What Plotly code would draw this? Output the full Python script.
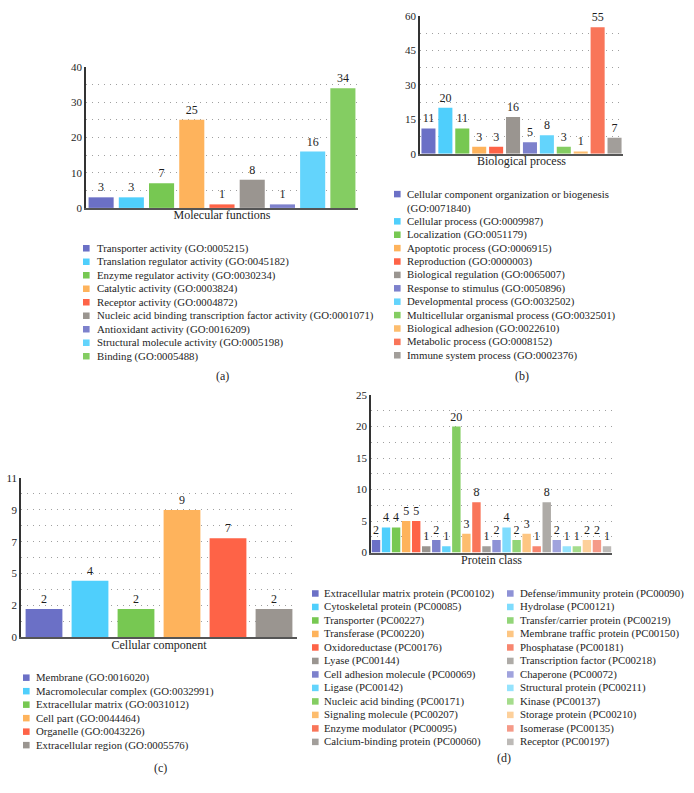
import numpy as np
import plotly.graph_objects as go

FONT = "Liberation Serif"
W, H = 694, 793

# ---------------- data ----------------
mf_labels = [
    "Transporter activity (GO:0005215)",
    "Translation regulator activity (GO:0045182)",
    "Enzyme regulator activity (GO:0030234)",
    "Catalytic activity (GO:0003824)",
    "Receptor activity (GO:0004872)",
    "Nucleic acid binding transcription factor activity (GO:0001071)",
    "Antioxidant activity (GO:0016209)",
    "Structural molecule activity (GO:0005198)",
    "Binding (GO:0005488)",
]
mf_values = [3, 3, 7, 25, 1, 8, 1, 16, 34]

bp_labels = [
    "Cellular component organization or biogenesis (GO:0071840)",
    "Cellular process (GO:0009987)",
    "Localization (GO:0051179)",
    "Apoptotic process (GO:0006915)",
    "Reproduction (GO:0000003)",
    "Biological regulation (GO:0065007)",
    "Response to stimulus (GO:0050896)",
    "Developmental process (GO:0032502)",
    "Multicellular organismal process (GO:0032501)",
    "Biological adhesion (GO:0022610)",
    "Metabolic process (GO:0008152)",
    "Immune system process (GO:0002376)",
]
bp_values = [11, 20, 11, 3, 3, 16, 5, 8, 3, 1, 55, 7]

cc_labels = [
    "Membrane (GO:0016020)",
    "Macromolecular complex (GO:0032991)",
    "Extracellular matrix (GO:0031012)",
    "Cell part (GO:0044464)",
    "Organelle (GO:0043226)",
    "Extracellular region (GO:0005576)",
]
cc_values = [2, 4, 2, 9, 7, 2]
cc_ticktext = ["0", "2", "5", "7", "9", "11"]

pc_labels = [
    "Extracellular matrix protein (PC00102)",
    "Cytoskeletal protein (PC00085)",
    "Transporter (PC00227)",
    "Transferase (PC00220)",
    "Oxidoreductase (PC00176)",
    "Lyase (PC00144)",
    "Cell adhesion molecule (PC00069)",
    "Ligase (PC00142)",
    "Nucleic acid binding (PC00171)",
    "Signaling molecule (PC00207)",
    "Enzyme modulator (PC00095)",
    "Calcium-binding protein (PC00060)",
    "Defense/immunity protein (PC00090)",
    "Hydrolase (PC00121)",
    "Transfer/carrier protein (PC00219)",
    "Membrane traffic protein (PC00150)",
    "Phosphatase (PC00181)",
    "Transcription factor (PC00218)",
    "Chaperone (PC00072)",
    "Structural protein (PC00211)",
    "Kinase (PC00137)",
    "Storage protein (PC00210)",
    "Isomerase (PC00135)",
    "Receptor (PC00197)",
]
pc_values = [2, 4, 4, 5, 5, 1, 2, 1, 20, 3, 8, 1, 2, 4, 2, 3, 1, 8, 2, 1, 1, 2, 2, 1]

# ---------------- style ----------------
PAL = [
    ["#6b70c6", "#4fcffc", "#77c852", "#feb35c", "#fe6347", "#9a9590"],
    ["#7d81cc", "#63d4fc", "#84cd62", "#fdbd6e", "#f97559", "#a29e9a"],
    ["#8e92d6", "#7fdcfd", "#92d578", "#fdc683", "#f7866f", "#aeaba7"],
    ["#a0a3dd", "#95e3fd", "#a5dc8c", "#fdd09b", "#f59a88", "#bdbab7"],
]


def colors_for(n):
    return [PAL[i // 6][i % 6] for i in range(n)]


def px(x):
    return x / W


def py(y):
    return 1 - y / H


TXT = "#1e1e1e"
GRID = "#a0a0a0"
DASH = "1px,5px"
LEGFONT = 10.8

panels = [
    dict(labels=mf_labels, values=mf_values, xd=(86, 358), yd=(62, 205),
         ytop=40, dtick=10, title="Molecular functions", bw=0.83,
         tag="(a)", tagpos=(222, 376),
         legend=[dict(sq=83, tx=96, y0=246, lh=13.7, items=range(0, 9), wrap=None)]),
    dict(labels=bp_labels, values=bp_values, xd=(420, 623), yd=(10, 150),
         ytop=60, dtick=15, title="Biological process", bw=0.83,
         tag="(b)", tagpos=(522, 376),
         legend=[dict(sq=394, tx=406, y0=191, lh=13.6, items=range(0, 12), wrap=50)]),
    dict(labels=cc_labels, values=cc_values, xd=(21, 297), yd=(479.3, 641),
         ytop=11.25, dtick=None, title="Cellular component", bw=0.8,
         tag="(c)", tagpos=(160, 774),
         legend=[dict(sq=23, tx=35, y0=682, lh=13.7, items=range(0, 6), wrap=None)]),
    dict(labels=pc_labels, values=pc_values, xd=(371, 612), yd=(395, 555),
         ytop=25, dtick=5, title="Protein class", bw=0.84,
         tag="(d)", tagpos=(504, 764),
         legend=[dict(sq=312, tx=323, y0=596.5, lh=13.7, items=range(0, 12), wrap=None),
                 dict(sq=507, tx=519, y0=596.5, lh=13.7, items=range(12, 24), wrap=None)]),
]

fig = go.Figure()
annotations = []
shapes = []
BR_LH = 1.3 * LEGFONT
SQ = 6.6

for i, p in enumerate(panels):
    sfx = "" if i == 0 else str(i + 1)
    xa, ya = "x" + sfx, "y" + sfx
    cols = colors_for(len(p["labels"]))
    for lab, val, col in zip(p["labels"], p["values"], cols):
        fig.add_trace(go.Bar(
            x=[lab], y=[val], name=lab, marker=dict(color=col, line=dict(width=0)),
            width=p["bw"], text=[val], textposition="outside",
            textfont=dict(family=FONT, size=12, color=TXT),
            cliponaxis=False, showlegend=False, xaxis=xa, yaxis=ya,
            hovertemplate="%{x}: %{y}<extra></extra>"))

    n = len(p["labels"])
    xaxis = dict(domain=[px(p["xd"][0]), px(p["xd"][1])], anchor=ya,
                 type="category", range=[-0.5, n - 0.5],
                 showline=True, linecolor="#555555", linewidth=2,
                 showgrid=False, showticklabels=False, ticks="", zeroline=False,
                 title=dict(text=p["title"], standoff=2,
                            font=dict(family=FONT, size=12, color=TXT)),
                 fixedrange=True)
    yaxis = dict(domain=[py(p["yd"][1]), py(p["yd"][0])], anchor=xa,
                 range=[0, p["ytop"]], showline=True, linecolor="#333333",
                 linewidth=1.5, ticks="", zeroline=False,
                 showgrid=True, gridcolor=GRID, gridwidth=1, griddash=DASH,
                 tickfont=dict(family=FONT, size=11, color=TXT),
                 fixedrange=True)
    if p["dtick"] is not None:
        yaxis.update(tickmode="linear", tick0=0, dtick=p["dtick"],
                     minor=dict(tickmode="linear", tick0=0, dtick=p["dtick"] / 2,
                                showgrid=True, gridcolor=GRID, gridwidth=1,
                                griddash=DASH, ticks=""))
    else:
        tv = np.linspace(0, p["ytop"], len(cc_ticktext))
        yaxis.update(tickmode="array", tickvals=list(tv), ticktext=cc_ticktext,
                     minor=dict(tickmode="linear", tick0=0,
                                dtick=p["ytop"] / (2 * (len(cc_ticktext) - 1)),
                                showgrid=True, gridcolor=GRID, gridwidth=1,
                                griddash=DASH, ticks=""))
    fig.update_layout(**{"xaxis" + sfx: xaxis, "yaxis" + sfx: yaxis})

    # compact legend drawn as shapes + text
    for colspec in p["legend"]:
        cursor = colspec["y0"]
        for k in colspec["items"]:
            lab = p["labels"][k]
            if colspec["wrap"] and len(lab) > colspec["wrap"]:
                cut = lab.rfind(" (")
                lines = [lab[:cut], lab[cut + 1:]]
            else:
                lines = [lab]
            nl = len(lines)
            shapes.append(dict(type="rect", xref="paper", yref="paper",
                               x0=px(colspec["sq"]), x1=px(colspec["sq"] + SQ),
                               y0=py(cursor + SQ / 2), y1=py(cursor - SQ / 2),
                               fillcolor=cols[k], line=dict(width=0)))
            ycen = cursor + (nl - 1) * BR_LH / 2
            annotations.append(dict(
                x=px(colspec["tx"]), y=py(ycen), xref="paper", yref="paper",
                xanchor="left", yanchor="middle", align="left",
                text="<br>".join(lines), showarrow=False, borderpad=0,
                font=dict(family=FONT, size=LEGFONT, color=TXT)))
            cursor = cursor + (nl - 1) * BR_LH + colspec["lh"]

    annotations.append(dict(
        x=px(p["tagpos"][0]), y=py(p["tagpos"][1]), xref="paper", yref="paper",
        xanchor="center", yanchor="middle", text=p["tag"], showarrow=False,
        font=dict(family=FONT, size=12, color=TXT)))

fig.update_layout(
    width=W, height=H, autosize=False,
    margin=dict(l=0, r=0, t=0, b=0),
    paper_bgcolor="white", plot_bgcolor="white",
    barmode="overlay",
    uniformtext=dict(minsize=12, mode="show"),
    font=dict(family=FONT, size=11, color=TXT),
    annotations=annotations, shapes=shapes,
    showlegend=False,
)

fig.write_html("out.html", config={"displayModeBar": False},
               post_script="document.body.style.margin='0px';")
